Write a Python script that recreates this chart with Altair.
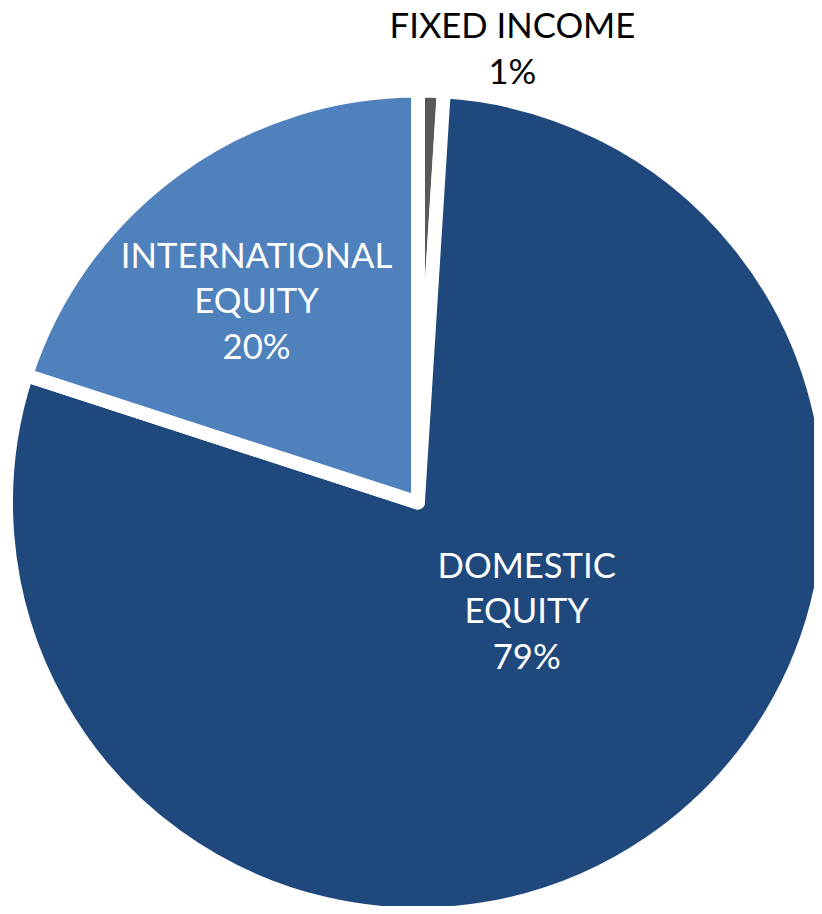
import altair as alt
import pandas as pd

categories = ["FIXED INCOME", "DOMESTIC EQUITY", "INTERNATIONAL EQUITY"]
values = [1, 79, 20]
labels = ["FIXED INCOME\n1%", "DOMESTIC\nEQUITY\n79%", "INTERNATIONAL\nEQUITY\n20%"]
colors = ["#595959", "#1F497D", "#4F81BD"]

df = pd.DataFrame({
    "category": categories,
    "value": values,
    "label": labels,
    "order": list(range(len(categories))),
})

CX, CY, R = 414, 495, 416
total = sum(values)
theta_scale = alt.Scale(domain=[0, total])

arcs = alt.Chart(df).mark_arc(
    radius=R, stroke="white", strokeWidth=14, strokeJoin="round"
).encode(
    theta=alt.Theta("value:Q", stack=True, scale=theta_scale),
    order=alt.Order("order:Q"),
    x=alt.value(CX),
    y=alt.value(CY),
    color=alt.Color("category:N", scale=alt.Scale(domain=categories, range=colors), legend=None),
)

font = "Lato"

def label_layer(cat, radius, dx, dy, color):
    return alt.Chart(df).transform_window(
        cum="sum(value)", sort=[alt.SortField("order")]
    ).transform_calculate(
        mid="datum.cum - datum.value / 2"
    ).transform_filter(
        alt.datum.category == cat
    ).mark_text(
        radius=radius, dx=dx, dy=dy, font=font, fontSize=35, lineHeight=46,
        align="center", baseline="middle", lineBreak="\n", color=color,
    ).encode(
        theta=alt.Theta("mid:Q", stack=None, scale=theta_scale),
        x=alt.value(CX),
        y=alt.value(CY),
        text="label:N",
    )

t_fixed = label_layer("FIXED INCOME", 460, 81, -20, "black")
t_dom = label_layer("DOMESTIC EQUITY", 151, 25, -60, "white")
t_int = label_layer("INTERNATIONAL EQUITY", 262, -9, -36, "white")

chart = alt.layer(arcs, t_fixed, t_dom, t_int).properties(
    width=814, height=898, autosize=alt.AutoSizeParams(type="none"), padding=0
).configure_view(stroke=None)

chart.save("out.html", embed_options={"renderer": "svg", "actions": False})
